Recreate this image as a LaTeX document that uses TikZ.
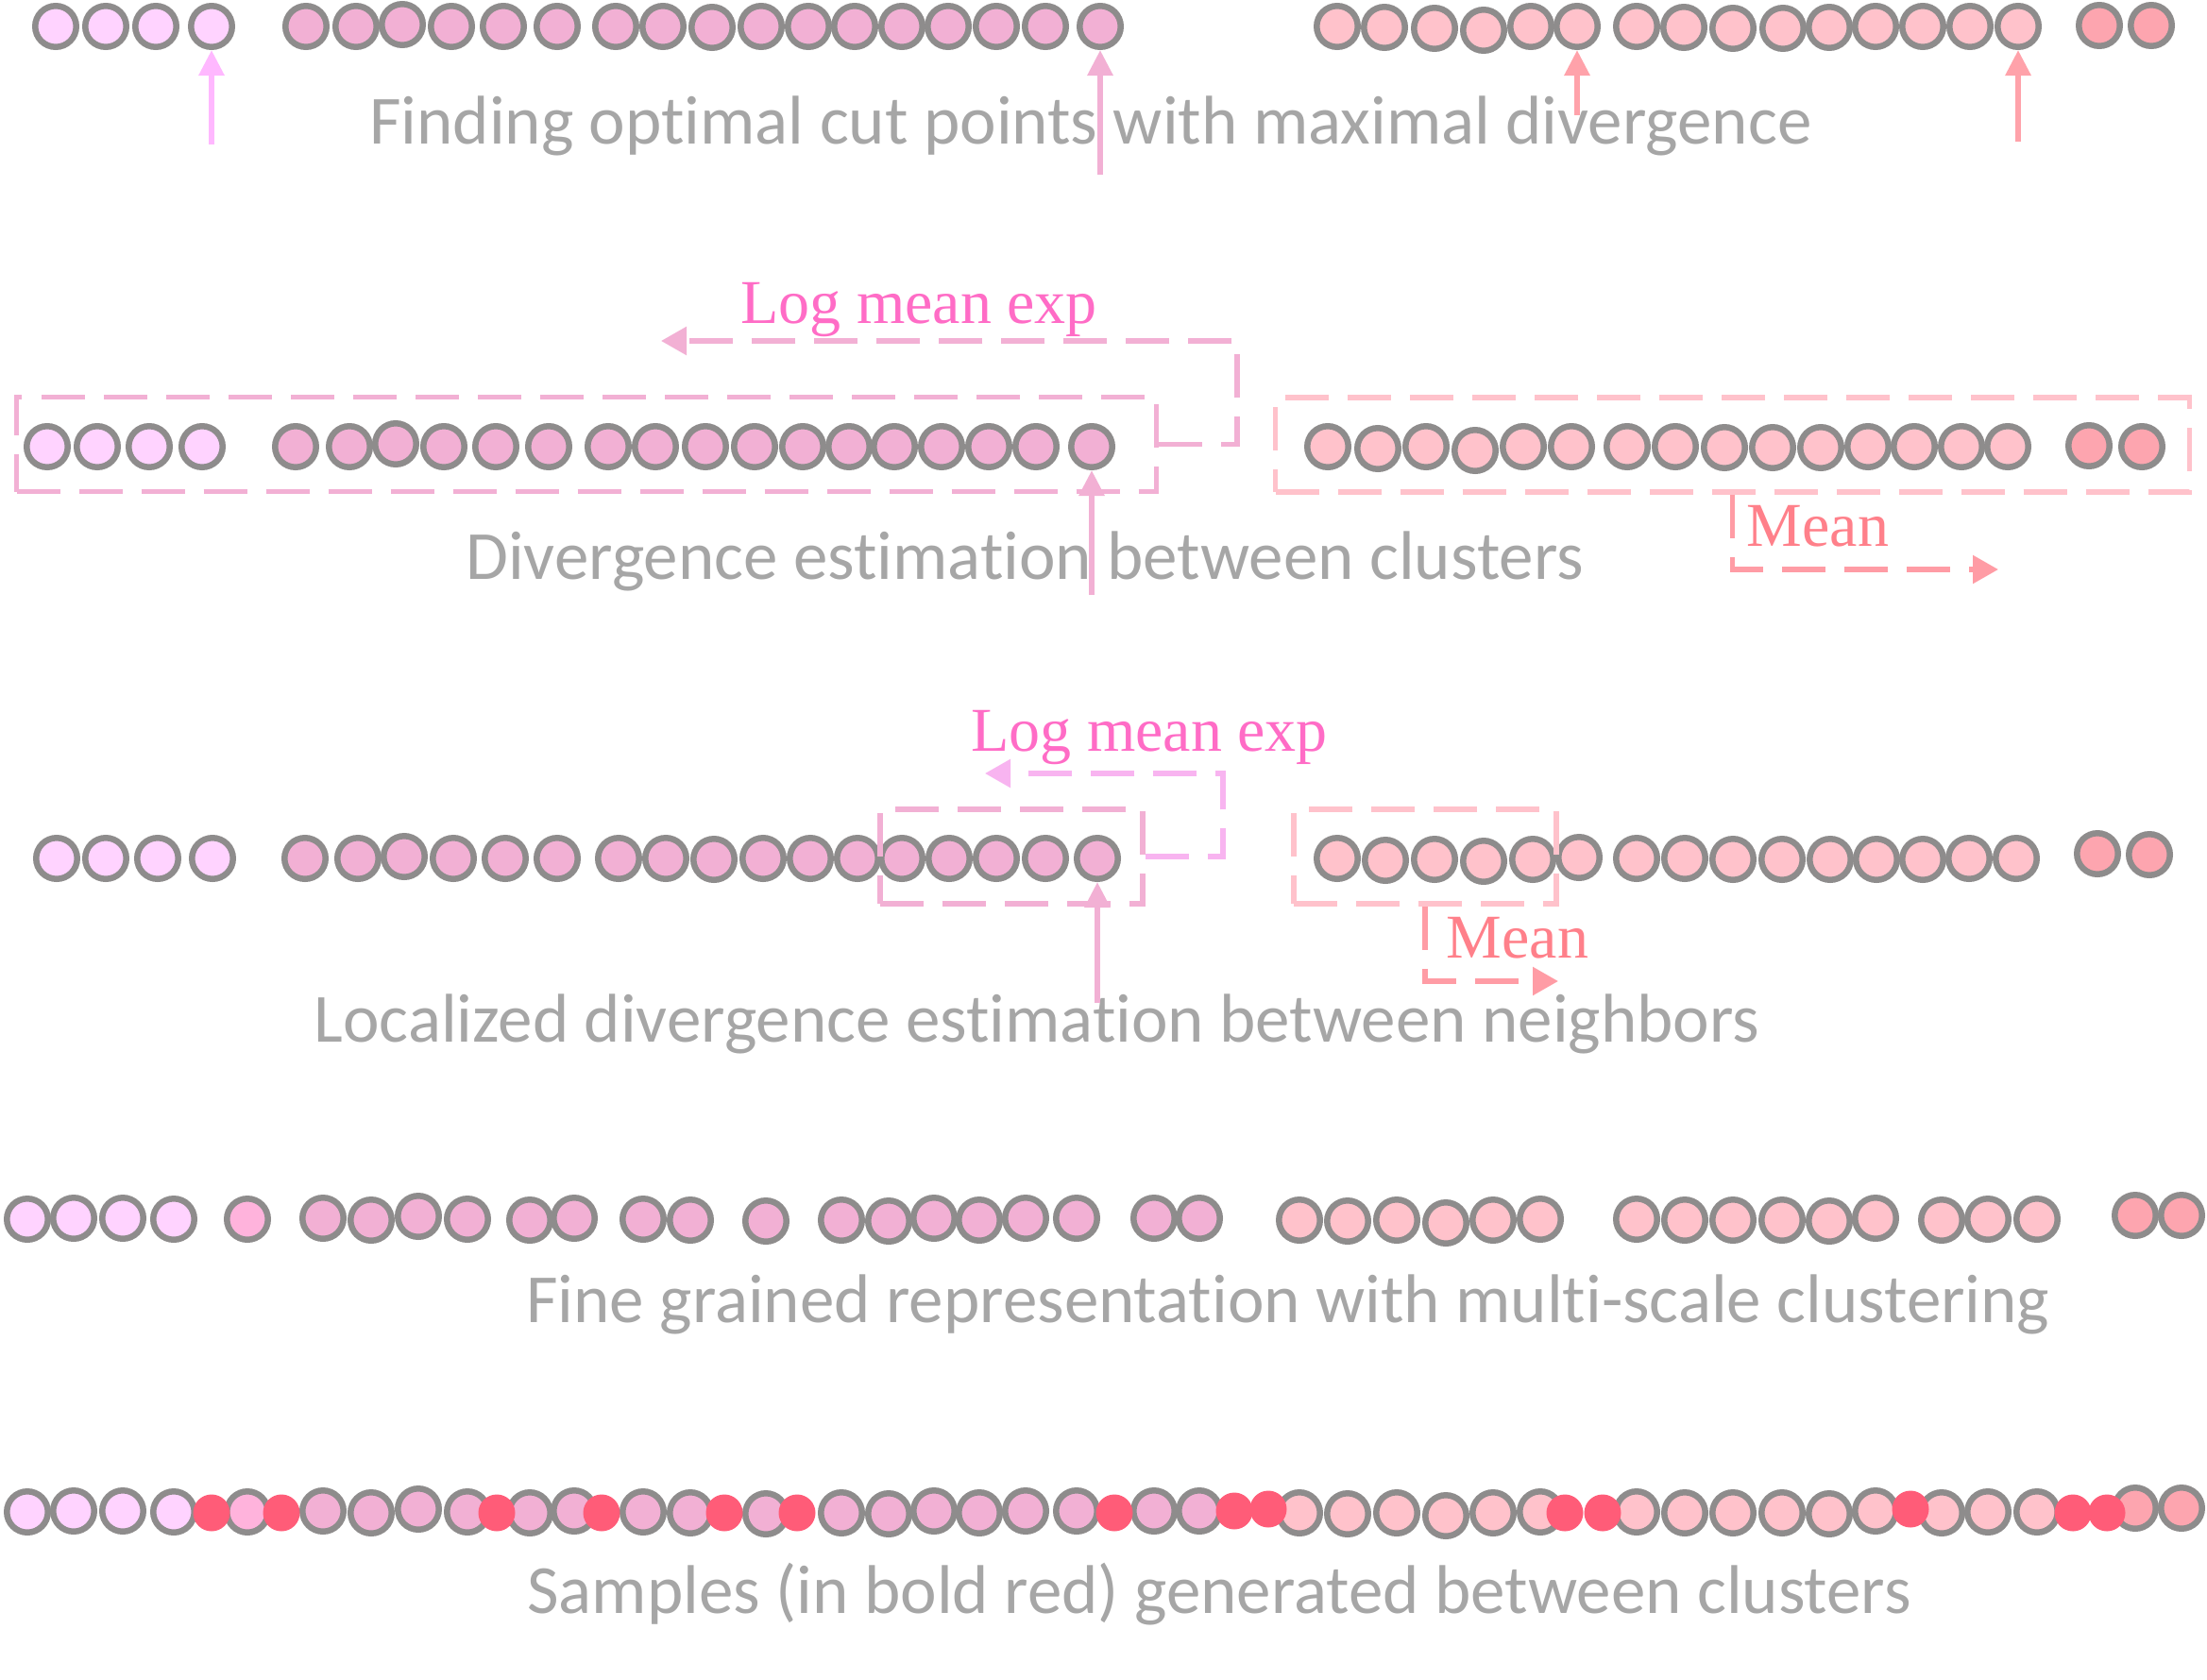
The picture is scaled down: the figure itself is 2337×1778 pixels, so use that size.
\documentclass[tikz,border=0pt]{standalone}
\usepackage{fontspec}
\setmainfont{Liberation Serif}
\newfontfamily\capfont[Ligatures={NoCommon,NoRare}]{Carlito}
\usetikzlibrary{arrows.meta}
\definecolor{ringgray}{HTML}{8E8C8C}
\definecolor{lightpinkc}{HTML}{FFD3FF}
\definecolor{midpinkc}{HTML}{FFB3DC}
\definecolor{pinkc}{HTML}{F2B0D4}
\definecolor{salmonc}{HTML}{FFC2CB}
\definecolor{darksalmonc}{HTML}{FDA5AF}
\definecolor{samplered}{HTML}{FF5C78}
\definecolor{captiongray}{HTML}{A6A6A6}
\definecolor{arrowlp}{HTML}{FFB8FF}
\definecolor{arrowsalmon}{HTML}{FFA2AA}
\definecolor{pinkbox}{HTML}{F2B0D4}
\definecolor{salmonbox}{HTML}{FFC2CB}
\definecolor{lmearrow}{HTML}{F8B4F0}
\definecolor{meanarrow}{HTML}{FF9CA5}
\definecolor{lmetext}{HTML}{FF6CC6}
\definecolor{meantext}{HTML}{FF808A}
\begin{document}
\begin{tikzpicture}[x=1pt,y=-1pt,
  dot/.style={circle, draw=ringgray, line width=6.5pt, minimum size=43.5pt, inner sep=0pt},
  lpc/.style={dot, fill=lightpinkc},
  mpc/.style={dot, fill=midpinkc},
  pkc/.style={dot, fill=pinkc},
  slc/.style={dot, fill=salmonc},
  dsc/.style={dot, fill=darksalmonc},
  sample/.style={circle, fill=samplered, minimum size=39pt, inner sep=0pt},
  caption/.style={font=\capfont\fontsize{73pt}{88pt}\selectfont, text=captiongray, anchor=base, inner sep=0pt},
  note/.style={font=\fontsize{66pt}{79pt}\selectfont, anchor=base, inner sep=0pt},
  uparrow/.style={line width=6pt, -{Triangle[length=27pt,width=26pt]}},
  dbox/.style={line width=5.5pt, dash pattern=on 46pt off 20pt, inner sep=0pt},
  darrow/.style={line width=5.5pt, dash pattern=on 46pt off 20pt, -{Triangle[length=27pt,width=29pt]}}
]
\useasboundingbox[fill=white] (0,0) rectangle (2337,1778);

% ---------------- Row 1
\foreach \x/\y [count=\i] in {59/28,112/28,165/28,224/28}
  \node[lpc] (r1a\i) at (\x,\y) {};
\foreach \x/\y [count=\i] in {324/28,377/28,426/26,478/28,533/28,590/28,652/28,702/28,754/29,806/28,856/28,905/28,955/28,1004/28,1055/28,1107/28,1165/28}
  \node[pkc] (r1b\i) at (\x,\y) {};
\foreach \x/\y [count=\i] in {1416/28,1466/29,1519/30,1571/32,1621/28,1670/28,1733/28,1783/29,1835/30,1888/30,1937/29,1986/28,2036/28,2086/28,2137/28}
  \node[slc] (r1c\i) at (\x,\y) {};
\foreach \x/\y [count=\i] in {2223/27,2278/27}
  \node[dsc] (r1d\i) at (\x,\y) {};
\node[caption] (t1) at (1155,152) {Finding optimal cut points with maximal divergence};
\coordinate (u1) at (224,153);
\coordinate (u2) at (1165,185);
\coordinate (u3) at (1670,122);
\coordinate (u4) at (2137,150);
\draw[uparrow, color=arrowlp] (u1) -- (r1a4);
\draw[uparrow, color=pinkc] (u2) -- (r1b17);
\draw[uparrow, color=arrowsalmon] (u3) -- (r1c6);
\draw[uparrow, color=arrowsalmon] (u4) -- (r1c15);

% ---------------- Row 2
\foreach \x/\y [count=\i] in {50/473,103/473,158/473,214/473}
  \node[lpc] (r2a\i) at (\x,\y) {};
\foreach \x/\y [count=\i] in {313/473,370/473,419/470,470/473,525/473,581/473,644/473,694/473,747/473,799/473,850/473,899/473,947/473,997/473,1047/473,1097/473,1156/473}
  \node[pkc] (r2b\i) at (\x,\y) {};
\foreach \x/\y [count=\i] in {1406/473,1459/475,1510/473,1562/477,1613/473,1664/473,1723/473,1774/473,1826/474,1877/474,1928/474,1978/473,2027/473,2077/473,2126/473}
  \node[slc] (r2c\i) at (\x,\y) {};
\foreach \x/\y [count=\i] in {2212/472,2268/473}
  \node[dsc] (r2d\i) at (\x,\y) {};
\node[dbox, draw=pinkbox, minimum width=1207pt, minimum height=100pt] (box2L) at (621,470.5) {};
\node[dbox, draw=salmonbox, minimum width=968pt, minimum height=100pt] (box2R) at (1834.5,471) {};
\node[note, text=lmetext] (l2) at (973,342) {Log mean exp};
\node[note, text=meantext] (m2) at (1925,578) {Mean};
\node[caption] (t2) at (1085,613) {Divergence estimation between clusters};
\coordinate (lmetip2) at (700,361);
\coordinate (lmecorner2) at (1310,470.5);
\coordinate (meantip2) at (2116,603);
\draw[darrow, color=pinkbox] (box2L.east) -- (lmecorner2) |- (lmetip2);
\draw[darrow, color=meanarrow] (box2R.south) |- (meantip2);
\coordinate (u5) at (1156,630);
\draw[uparrow, color=pinkc] (u5) -- (r2b17);

% ---------------- Row 3
\foreach \x/\y [count=\i] in {60/909,112/909,167/909,225/909}
  \node[lpc] (r3a\i) at (\x,\y) {};
\foreach \x/\y [count=\i] in {323/909,379/909,428/907,480/909,535/909,590/909,655/909,705/909,756/910,808/909,858/909,908/909,955/909,1005/909,1055/909,1107/909,1162/909}
  \node[pkc] (r3b\i) at (\x,\y) {};
\foreach \x/\y [count=\i] in {1416/909,1467/911,1519/910,1571/912,1623/910,1672/908,1733/909,1784/909,1835/910,1887/910,1938/910,1987/910,2036/910,2085/909,2135/909}
  \node[slc] (r3c\i) at (\x,\y) {};
\foreach \x/\y [count=\i] in {2221/904,2276/905}
  \node[dsc] (r3d\i) at (\x,\y) {};
\node[dbox, draw=pinkbox, minimum width=278pt, minimum height=100pt] (box3L) at (1071,907) {};
\node[dbox, draw=salmonbox, minimum width=278pt, minimum height=100pt] (box3R) at (1509,907) {};
\node[note, text=lmetext] (l3) at (1217,795) {Log mean exp};
\node[note, text=meantext] (m3) at (1607,1014) {Mean};
\node[caption] (t3) at (1098,1103) {Localized divergence estimation between neighbors};
\coordinate (lmetip3) at (1043,819);
\coordinate (lmecorner3) at (1295,907);
\coordinate (meantip3) at (1650,1039);
\draw[darrow, color=lmearrow] (box3L.east) -- (lmecorner3) |- (lmetip3);
\draw[darrow, color=meanarrow] (box3R.south) |- (meantip3);
\coordinate (u6) at (1162,1062);
\draw[uparrow, color=pinkc] (u6) -- (r3b17);

% ---------------- Rows 4 and 5 (same clustering)
\foreach \r/\dy in {4/0,5/310}{
  \foreach \x/\y [count=\i] in {29/1291,78/1290,130/1290,184/1291}
    \node[lpc] (r\r a\i) at (\x,\y+\dy) {};
  \node[mpc] (r\r m1) at (262,1291+\dy) {};
  \foreach \x/\y [count=\i] in {342/1290,393/1292,443/1288,495/1291,561/1292,608/1290,681/1291,731/1292,811/1293,891/1292,941/1293,989/1290,1037/1292,1086/1290,1140/1290,1222/1290,1270/1290}
    \node[pkc] (r\r b\i) at (\x,\y+\dy) {};
  \foreach \x/\y [count=\i] in {1376/1292,1427/1293,1479/1292,1531/1295,1581/1292,1631/1291,1733/1291,1784/1292,1835/1292,1887/1292,1937/1293,1986/1290,2056/1292,2105/1291,2157/1291}
    \node[slc] (r\r c\i) at (\x,\y+\dy) {};
  \foreach \x/\y [count=\i] in {2261/1287,2310/1287}
    \node[dsc] (r\r d\i) at (\x,\y+\dy) {};
}
\node[caption] (t4) at (1364,1400) {Fine grained representation with multi-scale clustering};
\foreach \x/\y [count=\i] in {224/1602,298/1602,526/1602,637/1602,767/1602,844/1602,1180/1602,1307/1600,1343/1598,1657/1602,1697/1602,2023/1598,2195/1602,2231/1602}
  \node[sample] (s\i) at (\x,\y) {};
\node[caption] (t5) at (1291,1708) {Samples (in bold red) generated between clusters};
\end{tikzpicture}
\end{document}
